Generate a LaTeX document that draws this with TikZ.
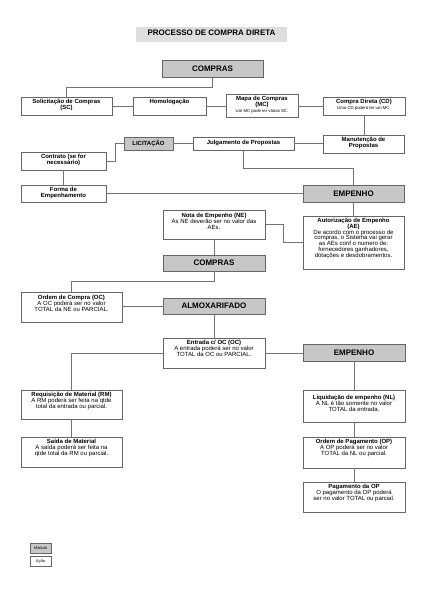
\documentclass[tikz,border=0pt]{standalone}
\usepackage{fontspec}
\setmainfont{Liberation Sans}
\begin{document}
\begin{tikzpicture}[x=1pt,y=-1pt,
  wbox/.style={draw=black!60,line width=0.7pt,fill=white,inner sep=0pt},
  gbox/.style={draw=black!60,line width=0.7pt,fill=black!22,inner sep=0pt,font=\fontsize{8}{9}\selectfont\bfseries},
  lbox/.style={draw=black!60,line width=0.6pt,fill=black!22,inner sep=0pt,font=\fontsize{6}{7}\selectfont\bfseries},
  legbox/.style={draw=black!60,line width=0.5pt,minimum width=21pt,minimum height=10pt,inner sep=0pt,font=\fontsize{4}{4.5}\selectfont},
  btxt/.style={anchor=north,align=center,inner sep=0pt,yshift=-2pt,font=\fontsize{6}{5.9}\selectfont},
  conn/.style={draw=black!55,line width=0.6pt}]
\useasboundingbox (0,0) rectangle (424,600);
% title
\node[fill=black!13,minimum width=151pt,minimum height=15pt,inner sep=0pt] (titlebg) at (211.5,34.5) {};
\node[font=\fontsize{8}{9}\selectfont\bfseries,inner sep=0pt] (title) at (211.5,33) {PROCESSO DE COMPRA DIRETA};
% boxes
\node[gbox,minimum width=101pt,minimum height=17pt] (compras1) at (212.5,68.5) {COMPRAS};
\node[wbox,minimum width=91pt,minimum height=18pt] (sc) at (66.5,106) {};
\node[wbox,minimum width=73pt,minimum height=18pt] (homo) at (169.5,106) {};
\node[wbox,minimum width=72pt,minimum height=23pt] (mc) at (262,105.5) {};
\node[wbox,minimum width=82pt,minimum height=18pt] (cd) at (364,106) {};
\node[lbox,minimum width=49pt,minimum height=13pt] (lic) at (148.5,143.5) {LICITAÇÃO};
\node[wbox,minimum width=101pt,minimum height=13pt] (julg) at (243.5,143.5) {};
\node[wbox,minimum width=81pt,minimum height=18pt] (manut) at (363.5,144) {};
\node[wbox,minimum width=85pt,minimum height=18pt] (contrato) at (63.5,161) {};
\node[wbox,minimum width=85pt,minimum height=17pt] (forma) at (63.5,193.5) {};
\node[gbox,minimum width=101pt,minimum height=17pt] (emp1) at (353.5,193.5) {EMPENHO};
\node[wbox,minimum width=102pt,minimum height=29pt] (ne) at (214,224.5) {};
\node[wbox,minimum width=101pt,minimum height=53pt] (ae) at (353.5,242.5) {};
\node[gbox,minimum width=102pt,minimum height=16pt] (compras2) at (214,263) {COMPRAS};
\node[wbox,minimum width=101pt,minimum height=30pt] (oc) at (71.5,307) {};
\node[gbox,minimum width=102pt,minimum height=16pt] (almox) at (214,306) {ALMOXARIFADO};
\node[wbox,minimum width=102pt,minimum height=30pt] (entrada) at (214,353) {};
\node[gbox,minimum width=102pt,minimum height=17pt] (emp2) at (354,352.5) {EMPENHO};
\node[wbox,minimum width=101pt,minimum height=29pt] (rm) at (71.5,404.5) {};
\node[wbox,minimum width=101pt,minimum height=30pt] (saida) at (71.5,452) {};
\node[wbox,minimum width=102pt,minimum height=32pt] (nl) at (354,406) {};
\node[wbox,minimum width=102pt,minimum height=31pt] (op) at (354,452.5) {};
\node[wbox,minimum width=102pt,minimum height=30pt] (pag) at (354,497) {};
\node[legbox,fill=black!22] (modulo) at (40.5,548) {Módulo};
\node[legbox,fill=white] (acao) at (40.5,561) {Ação};
% texts
\node[btxt] (tsc) at (sc.north) {\textbf{Solicitação de Compras}\\\textbf{(SC)}};
\node[btxt] (thomo) at (homo.north) {\textbf{Homologação}};
\node[btxt,yshift=0pt] (tmc) at (mc.north) {\textbf{Mapa de Compras}\\\textbf{(MC)}\\{\fontsize{4.3}{5}\selectfont Um MC pode ter várias SC.}};
\node[btxt] (tcd) at (cd.north) {\textbf{Compra Direta (CD)}\\{\fontsize{4.3}{5}\selectfont Uma CD poderá ter um MC.}};
\node[btxt,yshift=-1.5pt] (tjulg) at (julg.north) {\textbf{Julgamento de Propostas}};
\node[btxt] (tmanut) at (manut.north) {\textbf{Manutenção de}\\\textbf{Propostas}};
\node[btxt] (tcontrato) at (contrato.north) {\textbf{Contrato (se for}\\\textbf{necessário)}};
\node[btxt] (tforma) at (forma.north) {\textbf{Forma de}\\\textbf{Empenhamento}};
\node[btxt,yshift=-1pt] (tne) at (ne.north) {\textbf{Nota de Empenho (NE)}\\As NE deverão ser no valor das\\AEs.};
\node[btxt] (tae) at (ae.north) {\textbf{Autorização de Empenho}\\\textbf{(AE)}\\De acordo com o processo de\\compras, o Sistema vai gerar\\as AEs conf o numero de:\\fornecedores ganhadores,\\dotações e desdobramentos.};
\node[btxt,yshift=-1pt] (toc) at (oc.north) {\textbf{Ordem de Compra (OC)}\\A OC poderá ser no valor\\TOTAL da NE ou PARCIAL.};
\node[btxt] (tentrada) at (entrada.north) {\textbf{Entrada c/ OC (OC)}\\A entrada poderá ser no valor\\TOTAL da OC ou PARCIAL.};
\node[btxt] (trm) at (rm.north) {\textbf{Requisição de Material (RM)}\\A RM poderá ser feita na qtde\\total da entrada ou parcial.};
\node[btxt] (tsaida) at (saida.north) {\textbf{Saída de Material}\\A saída poderá ser feita na\\qtde total da RM ou parcial.};
\node[btxt,yshift=-3pt] (tnl) at (nl.north) {\textbf{Liquidação de empenho (NL)}\\A NL é tão somente no valor\\TOTAL da entrada.};
\node[btxt] (top) at (op.north) {\textbf{Ordem de Pagamento (OP)}\\A OP poderá ser no valor\\TOTAL da NL ou parcial.};
\node[btxt] (tpag) at (pag.north) {\textbf{Pagamento da OP}\\O pagamento da OP poderá\\ser no valor TOTAL ou parcial.};
% connectors
\draw[conn] (compras1.south) -- ++(0,10) -| (sc.north);
\draw[conn] (sc.east) -- (homo.west);
\draw[conn] (homo.east) -- (homo.east -| mc.west);
\draw[conn] (mc.east |- cd.west) -- (cd.west);
\draw[conn] (cd.south) -- (cd.south |- manut.north);
\draw[conn] (lic.east) -- (julg.west);
\draw[conn] (julg.east) -- (julg.east -| manut.west);
\draw[conn] (contrato.east) -- ++(9,0) |- (lic.west);
\draw[conn] (contrato.south) -- (forma.north);
\draw[conn] (forma.east) -- (emp1.west);
\draw[conn] (julg.south) -- ++(0,18) -| (emp1.north);
\draw[conn] (emp1.south) -- (ae.north);
\draw[conn] (ne.east) -- ++(18,0) |- (ae.west);
\draw[conn] (ne.south) -- (compras2.north);
\draw[conn] (compras2.south) -- ++(0,10) -| (oc.north);
\draw[conn] (almox.west -| oc.east) -- (almox.west);
\draw[conn] (almox.south) -- (entrada.north);
\draw[conn] (entrada.west) -| (rm.north);
\draw[conn] (entrada.east) -- (entrada.east -| emp2.west);
\draw[conn] (rm.south) -- (saida.north);
\draw[conn] (emp2.south) -- (nl.north);
\draw[conn] (nl.south) -- (op.north);
\draw[conn] (op.south) -- (pag.north);
\end{tikzpicture}
\end{document}
